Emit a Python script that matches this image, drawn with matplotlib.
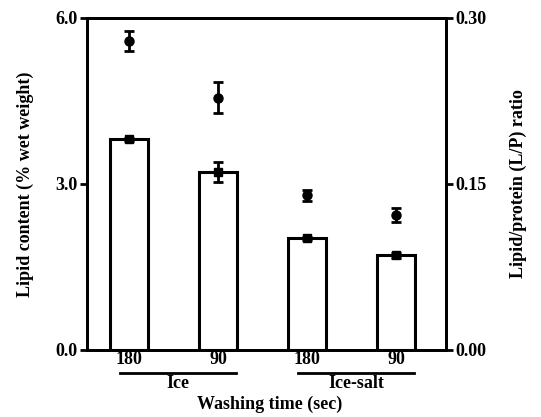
import matplotlib
matplotlib.use("Agg")
import matplotlib.pyplot as plt

categories = ["180", "90", "180", "90"]
groups = ["Ice", "Ice-salt"]
lipid = [3.81, 3.22, 2.02, 1.71]
lipid_err = [0.03, 0.18, 0.03, 0.05]
lp_ratio = [0.279, 0.228, 0.140, 0.122]
lp_err = [0.009, 0.014, 0.005, 0.006]

plt.rcParams['font.family'] = ['Liberation Serif', 'DejaVu Serif']
plt.rcParams['font.weight'] = 'bold'
FS = 13

fig = plt.figure(figsize=(5.41, 4.17), dpi=100)
ax = fig.add_axes([87/541, 1-350/417, (446-87)/541, (350-18)/417])
x = list(range(len(categories)))
ax.bar(x, lipid, width=0.43, facecolor='white', edgecolor='black', linewidth=2.2,
       yerr=lipid_err, error_kw=dict(ecolor='black', elinewidth=2, capsize=3.5, capthick=2))
ax.plot(x, lipid, 's', color='black', markersize=6, zorder=5)
ax.set_xlim(-0.47, 3.56)
ax.set_ylim(0, 6.0)
ax.set_yticks([0, 3, 6])
ax.set_yticklabels(["0.0", "3.0", "6.0"], fontsize=FS, fontweight='bold')
ax.set_xticks(x)
ax.set_xticklabels(categories, fontsize=FS, fontweight='bold')
ax.tick_params(axis='x', length=0, pad=1)
ax.tick_params(axis='y', direction='out', length=5, width=2, pad=2)
for s in ax.spines.values():
    s.set_linewidth(2)
ax.set_ylabel("Lipid content (% wet weight)", fontsize=FS, fontweight='bold', labelpad=15)

ax2 = ax.twinx()
ax2.errorbar(x, lp_ratio, yerr=lp_err, fmt='o', color='black', markersize=6.5,
             elinewidth=2, capsize=3.5, capthick=2)
ax2.set_ylim(0, 0.30)
ax2.set_yticks([0, 0.15, 0.30])
ax2.set_yticklabels(["0.00", "0.15", "0.30"], fontsize=FS, fontweight='bold')
ax2.tick_params(axis='y', direction='out', length=5, width=2, pad=2)
for s in ax2.spines.values():
    s.set_linewidth(2)
ax2.set_ylabel("Lipid/protein (L/P) ratio", fontsize=FS, fontweight='bold', labelpad=16)
ax2.set_xlim(-0.47, 3.56)

# group lines and labels
trans = ax.get_xaxis_transform()
gy = -(373-350)/332
for gi, g in enumerate(groups):
    x0 = 2*gi - 0.1
    x1 = 2*gi + 1 + 0.2
    ax.plot([x0, x1], [gy, gy], color='black', lw=2, transform=trans, clip_on=False)
    ax.text((x0 + x1)/2, gy - 0.006, g, transform=trans, ha='center', va='top',
            fontsize=FS, fontweight='bold')
ax.text(0.51, -(396-350)/332, "Washing time (sec)", transform=ax.transAxes,
        ha='center', va='top', fontsize=FS, fontweight='bold')

fig.savefig("out.png", dpi=100)
